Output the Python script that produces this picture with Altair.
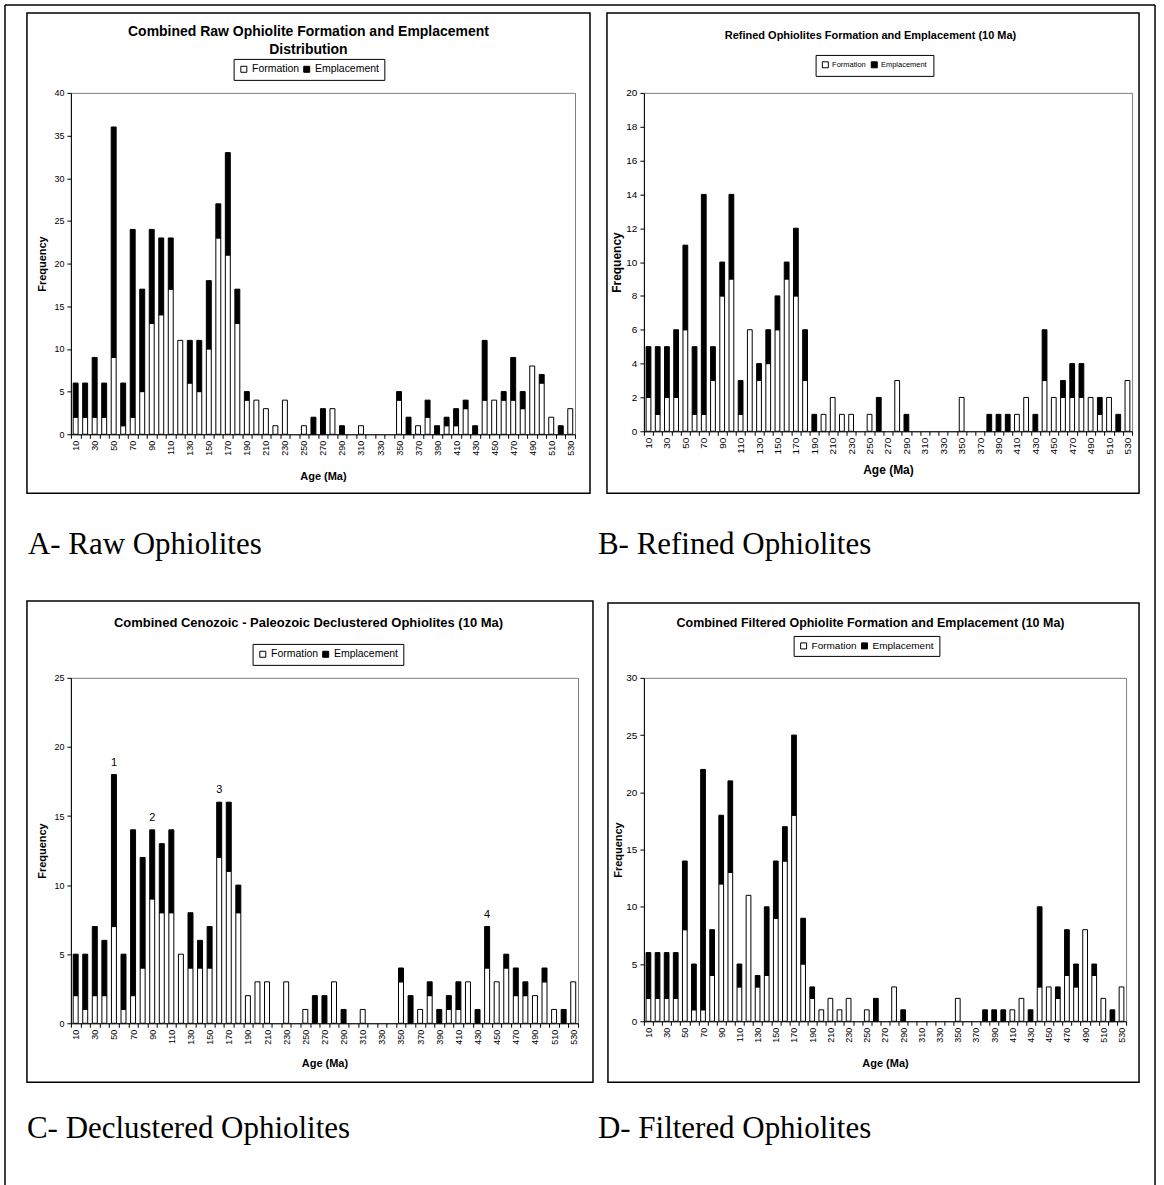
import altair as alt
import pandas as pd

# Age bins (Ma), one bar per 10 Ma bin
AGES = list(range(10, 540, 10))
SERIES = ["Formation", "Emplacement"]

# A - raw ophiolites
RAW_FORMATION = [2, 2, 2, 2, 9, 1, 2, 5, 13, 14, 17, 11, 6, 5, 10, 23, 21, 13, 4, 4,
                 3, 1, 4, 0, 1, 0, 0, 3, 0, 0, 1, 0, 0, 0, 4, 0, 1, 2, 0, 1,
                 1, 3, 0, 4, 4, 4, 4, 3, 8, 6, 2, 0, 3]
RAW_EMPLACEMENT = [4, 4, 7, 4, 27, 5, 22, 12, 11, 9, 6, 0, 5, 6, 8, 4, 12, 4, 1, 0,
                   0, 0, 0, 0, 0, 2, 3, 0, 1, 0, 0, 0, 0, 0, 1, 2, 0, 2, 1, 1,
                   2, 1, 1, 7, 0, 1, 5, 2, 0, 1, 0, 1, 0]

# B - refined ophiolites
REFINED_FORMATION = [2, 1, 2, 2, 6, 1, 1, 3, 8, 9, 1, 6, 3, 4, 6, 9, 8, 3, 0, 1,
                     2, 1, 1, 0, 1, 0, 0, 3, 0, 0, 0, 0, 0, 0, 2, 0, 0, 0, 0, 0,
                     1, 2, 0, 3, 2, 2, 2, 2, 2, 1, 2, 0, 3]
REFINED_EMPLACEMENT = [3, 4, 3, 4, 5, 4, 13, 2, 2, 5, 2, 0, 1, 2, 2, 1, 4, 3, 1, 0,
                       0, 0, 0, 0, 0, 2, 0, 0, 1, 0, 0, 0, 0, 0, 0, 0, 0, 1, 1, 1,
                       0, 0, 1, 3, 0, 1, 2, 2, 0, 1, 0, 1, 0]

# C - declustered ophiolites
DECLUSTERED_FORMATION = [2, 1, 2, 2, 7, 1, 2, 4, 9, 8, 8, 5, 4, 4, 4, 12, 11, 8, 2, 3,
                         3, 0, 3, 0, 1, 0, 0, 3, 0, 0, 1, 0, 0, 0, 3, 0, 1, 2, 0, 1,
                         1, 3, 0, 4, 3, 4, 2, 2, 2, 3, 1, 0, 3]
DECLUSTERED_EMPLACEMENT = [3, 4, 5, 4, 11, 4, 12, 8, 5, 5, 6, 0, 4, 2, 3, 4, 5, 2, 0, 0,
                           0, 0, 0, 0, 0, 2, 2, 0, 1, 0, 0, 0, 0, 0, 1, 2, 0, 1, 1, 1,
                           2, 0, 1, 3, 0, 1, 2, 1, 0, 1, 0, 1, 0]
PEAK_AGES = [50, 90, 160, 440]
PEAK_LABELS = ["1", "2", "3", "4"]

# D - filtered ophiolites
FILTERED_FORMATION = [2, 2, 2, 2, 8, 1, 1, 4, 12, 13, 3, 11, 3, 4, 9, 14, 18, 5, 2, 1,
                      2, 1, 2, 0, 1, 0, 0, 3, 0, 0, 0, 0, 0, 0, 2, 0, 0, 0, 0, 0,
                      1, 2, 0, 3, 3, 2, 4, 3, 8, 4, 2, 0, 3]
FILTERED_EMPLACEMENT = [4, 4, 4, 4, 6, 4, 21, 4, 6, 8, 2, 0, 1, 6, 5, 3, 7, 4, 1, 0,
                        0, 0, 0, 0, 0, 2, 0, 0, 1, 0, 0, 0, 0, 0, 0, 0, 0, 1, 1, 1,
                        0, 0, 1, 7, 0, 1, 4, 2, 0, 1, 0, 1, 0]

SANS = "Liberation Sans"
SERIF = "Liberation Serif"
PAGE_W, PAGE_H = 1164, 1185
COL_GAP, ROW_GAP = 66, 244

PANELS = {
    "A": dict(formation=RAW_FORMATION, emplacement=RAW_EMPLACEMENT, ymax=40, ystep=5,
              width=505, height=342, origin=(70, 91), frame=(26, 11, 590, 492),
              title=["Combined Raw Ophiolite Formation and Emplacement", "Distribution"],
              title_xy=(308, 30), title_gap=18, title_size=14,
              legend_xy=(233, 57), legend_size=10.5, legend_pad=5,
              caption="A- Raw Ophiolites", caption_xy=(27, 553),
              ylab_size=9, xlab_size=9, atitle_size=11, ytitle_dx=-28, xtitle_y=475),
    "B": dict(formation=REFINED_FORMATION, emplacement=REFINED_EMPLACEMENT, ymax=20, ystep=2,
              width=489, height=339, origin=(644, 91), frame=(607, 11, 1140, 492),
              title=["Refined Ophiolites Formation and Emplacement (10 Ma)"],
              title_xy=(871, 34), title_gap=0, title_size=11,
              legend_xy=(816, 53), legend_size=7.5, legend_pad=6,
              caption="B- Refined Ophiolites", caption_xy=(598, 553),
              ylab_size=10, xlab_size=10, atitle_size=12, ytitle_dx=-27, xtitle_y=468),
    "C": dict(formation=DECLUSTERED_FORMATION, emplacement=DECLUSTERED_EMPLACEMENT, ymax=25, ystep=5,
              width=508, height=346, origin=(70, 677), frame=(26, 600, 593, 1082),
              title=["Combined Cenozoic - Paleozoic Declustered Ophiolites (10 Ma)"],
              title_xy=(308, 622), title_gap=0, title_size=13,
              legend_xy=(252, 643), legend_size=10.5, legend_pad=5,
              caption="C- Declustered Ophiolites", caption_xy=(26, 1138),
              ylab_size=9, xlab_size=9, atitle_size=11, ytitle_dx=-28, xtitle_y=1063),
    "D": dict(formation=FILTERED_FORMATION, emplacement=FILTERED_EMPLACEMENT, ymax=30, ystep=5,
              width=483, height=344, origin=(644, 677), frame=(608, 602, 1140, 1082),
              title=["Combined Filtered Ophiolite Formation and Emplacement (10 Ma)"],
              title_xy=(871, 622), title_gap=0, title_size=12.5,
              legend_xy=(794, 635), legend_size=10, legend_pad=5,
              caption="D- Filtered Ophiolites", caption_xy=(598, 1138),
              ylab_size=10, xlab_size=9, atitle_size=11, ytitle_dx=-25, xtitle_y=1063),
}


def x_scale():
    return alt.Scale(domain=AGES, paddingInner=0, paddingOuter=0)


def y_scale(p):
    return alt.Scale(domain=[0, p["ymax"]], nice=False)


def stacked_table(formation, emplacement):
    rows = []
    for age, f, e in zip(AGES, formation, emplacement):
        if f:
            rows.append({"age": age, "series": "Formation", "rank": 0, "count": f})
        if e:
            rows.append({"age": age, "series": "Emplacement", "rank": 1, "count": e})
    return pd.DataFrame(rows)


def build_panel(p, extras=()):
    ox, oy = p["origin"]
    w, h = p["width"], p["height"]

    x_axis = alt.Axis(
        title="Age (Ma)", titleFont=SANS, titleFontSize=p["atitle_size"],
        titleFontWeight="bold", titleX=w / 2, titleY=p["xtitle_y"] - (oy + h),
        titleBaseline="middle", titleAlign="center",
        labelAngle=270, labelFont=SANS, labelFontSize=p["xlab_size"],
        labelPadding=2, labelOverlap=False,
        labelExpr="datum.value % 20 == 10 ? datum.label : ''",
        tickBand="extent", tickSize=4, grid=False,
    )
    y_axis = alt.Axis(
        title="Frequency", titleFont=SANS, titleFontSize=p["atitle_size"],
        titleFontWeight="bold", titleX=p["ytitle_dx"], titleY=h / 2,
        titleBaseline="middle", titleAlign="center", titleAngle=270,
        values=list(range(0, p["ymax"] + 1, p["ystep"])),
        labelFont=SANS, labelFontSize=p["ylab_size"], labelPadding=3,
        tickSize=4, grid=False,
    )
    lx, ly = p["legend_xy"]
    legend = alt.Legend(
        title=None, orient="none", legendX=lx - ox, legendY=ly - oy,
        direction="horizontal", strokeColor="black", fillColor="white",
        padding=p["legend_pad"], symbolType="square", symbolSize=36,
        symbolStrokeColor="black", symbolStrokeWidth=1,
        labelFont=SANS, labelFontSize=p["legend_size"], labelColor="black",
        columnPadding=2, labelOffset=3,
    )

    bars = alt.Chart(stacked_table(p["formation"], p["emplacement"])).mark_bar(
        width=alt.RelativeBandSize(0.52), stroke="black", strokeWidth=1
    ).encode(
        x=alt.X("age:O", scale=x_scale(), axis=x_axis),
        y=alt.Y("count:Q", stack="zero", scale=y_scale(p), axis=y_axis),
        fill=alt.Fill("series:N", scale=alt.Scale(domain=SERIES, range=["white", "black"]),
                      legend=legend),
        order=alt.Order("rank:Q"),
    )

    base = alt.Chart(pd.DataFrame({"k": [0]}))
    x0, y0, x1, y1 = p["frame"]
    border = base.mark_rect(fillOpacity=0, stroke="black", strokeWidth=1.5).encode(
        x=alt.value(x0 - ox), x2=alt.value(x1 - ox),
        y=alt.value(y0 - oy), y2=alt.value(y1 - oy),
    )
    layers = [border, bars]

    tx, ty = p["title_xy"]
    for i, line in enumerate(p["title"]):
        layers.append(base.mark_text(
            font=SANS, fontSize=p["title_size"], fontWeight="bold",
            align="center", baseline="middle", color="black",
        ).encode(x=alt.value(tx - ox), y=alt.value(ty - oy + i * p["title_gap"]),
                 text=alt.value(line)))

    cx, cy = p["caption_xy"]
    layers.append(base.mark_text(
        font=SERIF, fontSize=31, align="left", baseline="alphabetic", color="black",
    ).encode(x=alt.value(cx - ox), y=alt.value(cy - oy), text=alt.value(p["caption"])))

    for make in extras:
        layers.append(make(p, base, x_axis, y_axis))
    return alt.layer(*layers).properties(width=w, height=h)


def page_outline(p, base, x_axis, y_axis):
    # whole-page extent plus the outer figure frame
    ox, oy = p["origin"]
    extent = base.mark_rect(opacity=0).encode(
        x=alt.value(-ox), x2=alt.value(PAGE_W - ox),
        y=alt.value(-oy), y2=alt.value(PAGE_H - oy),
    )
    left = base.mark_rule(color="black", strokeWidth=1.5).encode(
        x=alt.value(4 - ox), y=alt.value(3 - oy), y2=alt.value(PAGE_H - oy))
    top = base.mark_rule(color="black", strokeWidth=1.5).encode(
        x=alt.value(4 - ox), x2=alt.value(1156 - ox), y=alt.value(3 - oy))
    right = base.mark_rule(color="black", strokeWidth=1.5).encode(
        x=alt.value(1156 - ox), y=alt.value(3 - oy), y2=alt.value(PAGE_H - oy))
    return alt.layer(extent, left, top, right)


def peak_labels(p, base, x_axis, y_axis):
    totals = {a: f + e for a, f, e in zip(AGES, p["formation"], p["emplacement"])}
    peaks = pd.DataFrame({
        "age": PEAK_AGES,
        "label": PEAK_LABELS,
        "total": [totals[a] for a in PEAK_AGES],
    })
    return alt.Chart(peaks).mark_text(
        font=SANS, fontSize=11, baseline="alphabetic", dy=-9, color="black"
    ).encode(
        x=alt.X("age:O", scale=x_scale(), axis=x_axis),
        y=alt.Y("total:Q", scale=y_scale(p), axis=y_axis),
        text="label:N",
    )


panel_a = build_panel(PANELS["A"], extras=[page_outline])
panel_b = build_panel(PANELS["B"])
panel_c = build_panel(PANELS["C"], extras=[peak_labels])
panel_d = build_panel(PANELS["D"])

chart = alt.concat(
    panel_a, panel_b, panel_c, panel_d,
    columns=2, spacing={"row": ROW_GAP, "column": COL_GAP}, bounds="flush",
).resolve_scale(
    fill="independent",
).resolve_legend(
    fill="independent",
).properties(
    padding=0, background="white",
).configure(
    font=SANS,
).configure_view(
    stroke="#808080", strokeWidth=1,
).configure_axis(
    domainColor="black", tickColor="black", labelColor="black", titleColor="black",
    domainWidth=1, tickWidth=1,
)

chart.save("out.html", embed_options={"renderer": "svg", "actions": False})
